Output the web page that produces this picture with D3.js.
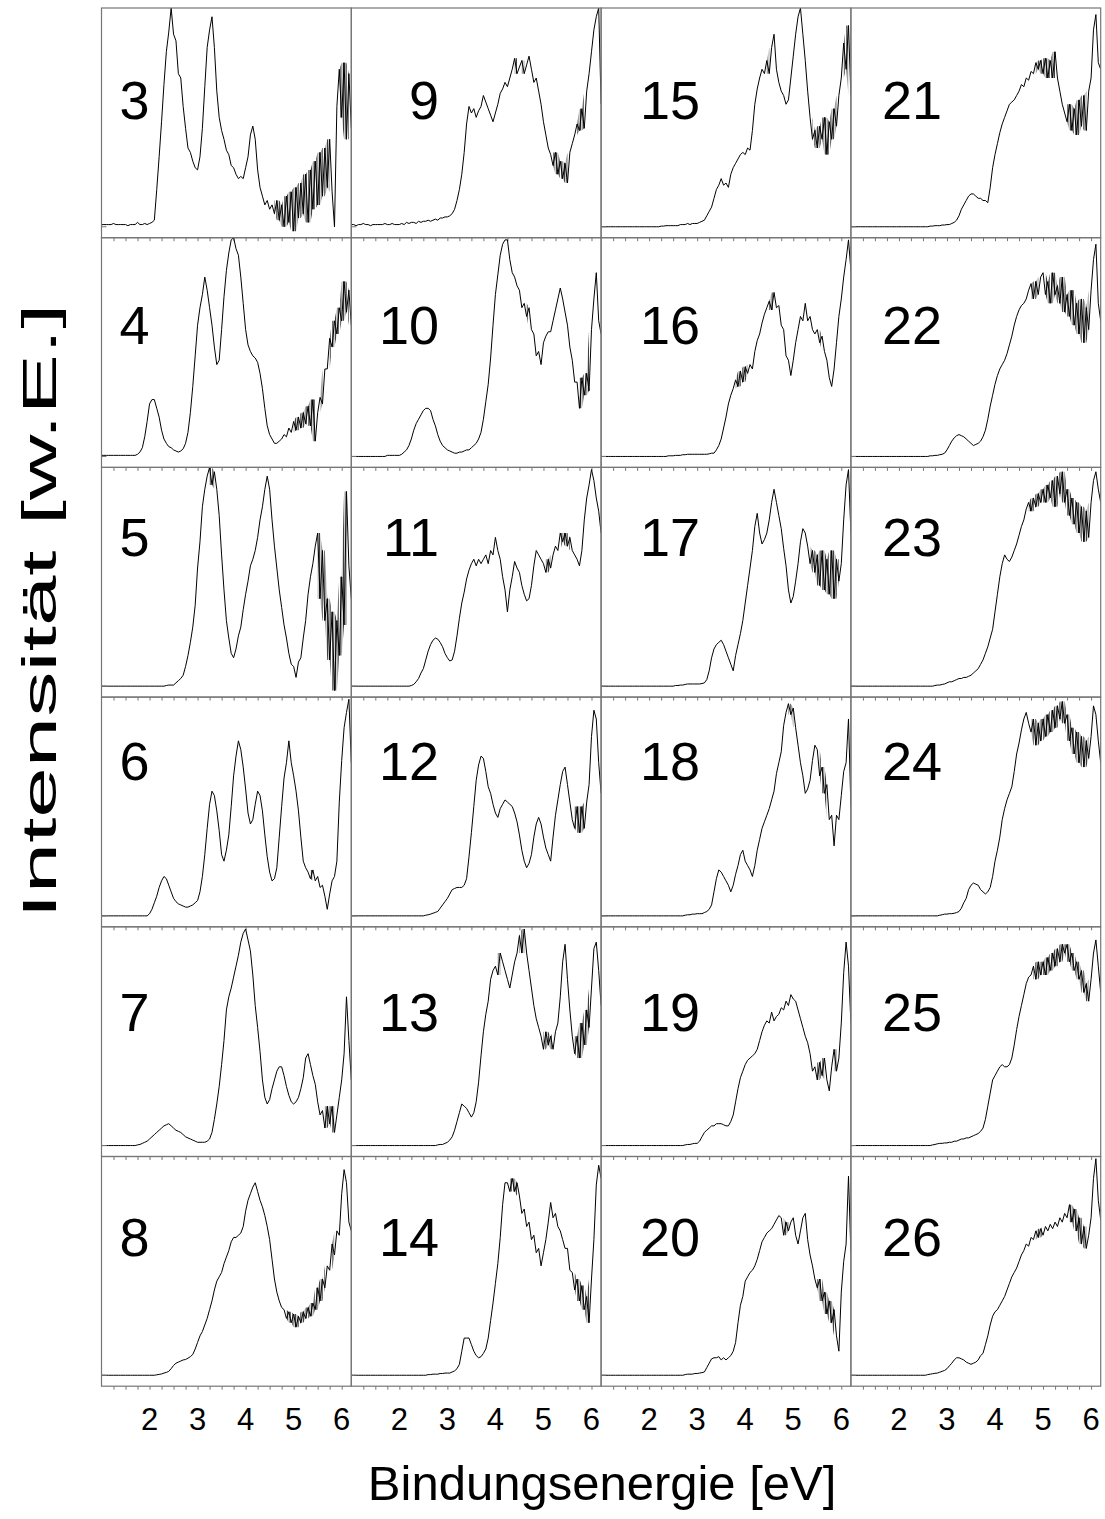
<!DOCTYPE html>
<html>
<head>
<meta charset="utf-8">
<script src="https://cdn.jsdelivr.net/npm/d3@7"></script>
<style>
  body { margin: 0; background: #fff; }
  text { font-family: "Liberation Sans", Arial, sans-serif; fill: #000; }
</style>
</head>
<body>
<svg id="chart" width="1105" height="1519"></svg>
<script>
// Photoelectron spectra: intensity in percent of the panel height,
// sampled every 0.05 eV from 1.00 eV to 6.20 eV (105 points per spectrum).
const E_START = 1.0;
const E_STEP = 0.05;

const spectrum3 = [
  1,1,1,1,1,1.5,1,1,1,1,
  1,0.5,1,1,1,2,1,1,1.5,1,
  1.5,2,3,17,32,48,65,80,89,100,
  88,85,70,68,55,45,36,34,30,27,
  26,32,45,64,82,90,96,82,62,50,
  44,40,35,33,28,27,24,22,23,22,
  27,32,42,46,40,26,18,14,10,12,
  8,10,6,12,3,10,0,14,2,16,
  -2,18,4,20,6,24,2,26,8,30,
  10,34,14,36,18,40,16,0,55,72,
  50,75,40,70,45];
const spectrum4 = [
  0.5,0.5,0.5,0.5,0.5,0.5,0.5,0.5,0.5,0.5,
  0.5,0.5,0.5,0.5,0.5,1,2,4,9,16,
  24,26,26,22,18,12,8,6,4.5,4,
  3,2.5,2,2.5,3.5,6,11,20,32,46,
  60,68,74,82,76,68,60,50,42,44,
  58,73,85,93,99,100,95,92,82,70,
  58,51,48,46,45,43,38,31,22,14,
  10,8,6,6,7,8,10,9,13,11,
  16,12,18,13,20,15,23,14,26,7,
  20,27,24,40,40,54,50,62,56,68,
  62,80,66,76,60];
const spectrum5 = [
  0,0,0,0,0,0,0,0,0,0,
  0,0,0,0,0,0,0,0,0,0,
  0,0,0,0,0,0,0,0.3,0.5,0.5,
  0.5,1.5,2.5,3.5,5,9,14,20,27,37,
  54,66,82,90,96,100,92,98,90,78,
  60,44,30,22,15,13,17,23,27,35,
  42,48,55,58,62,68,76,82,90,96,
  90,76,64,54,44,36,28,22,15,10,
  9,4,11,13,22,30,42,50,56,64,
  70,40,62,30,40,12,34,-2,30,14,
  50,28,89,55,40];
const spectrum6 = [
  0,0,0,0,0,0,0,0,0,0,
  0,0,0,0,0,0,0,0,0,0,
  1,3,6,9,13,16,18,17,14,11,
  8,6.5,5.5,5,4.5,4,4,4.5,5,6,
  7,11,18,28,40,51,57,55,48,39,
  28,25,30,37,50,64,73,80,76,68,
  58,47,42,44,51,57,55,48,37,27,
  20,16,17,22,36,50,63,70,80,70,
  64,57,48,36,25,22,20,17,21,16,
  18,13,14,9,3,10,16,18,25,52,
  71,86,93,99,70];
const spectrum7 = [
  0,0,0,0,0,0,0,0,0,0,
  0,0,0,0,0,0.3,0.5,1,1.5,2,
  3,4,5,6,7,8,9,9.5,10,9,
  8,7,6.5,6,5,4,3.5,3,2.5,2,
  1.5,1.5,1.5,1.5,2,3,6,12,19,27,
  37,48,62,68,72,77,82,87,93,97,
  99,94,89,78,64,54,43,30,22,19,
  21,26,30,34,36,36,32,27,23,20,
  19,20,22,26,31,40,42,37,32,28,
  20,14,16,8,18,10,18,6,14,22,
  30,42,68,48,30];
const spectrum8 = [
  0,0,0,0,0,0,0,0,0,0,
  0,0,0,0,0,0,0,0,0,0,
  0,0,0,0.2,0.4,0.6,1,1.3,1.8,3,
  4.5,5.5,6,6.5,7,7.2,7.8,8.5,9.5,12,
  15,18,20,23,26,30,34,39,43,45,
  47,51,54,57,61,63,63,64,65,68,
  75,80,83,86,88,84,80,77,73,68,
  62,53,44,38,34,31,30,26,29,24,
  28,22,27,24,29,26,31,27,33,30,
  40,34,44,40,50,48,60,55,66,64,
  83,94,88,70,66];
const spectrum9 = [
  1,1,0.5,1,1,1.5,1,1,0.5,1,
  1,1,1,1,1.5,1,1,1.5,1,1,
  1,1.5,1,2,1.5,2,2,1.5,2.5,2,
  2.5,2.5,3,2.5,3,3.5,3,4,4,4.5,
  4.5,5,6,8,12,17,24,34,47,55,
  52,54,50,53,55,60,57,54,51,48,
  52,56,61,63,66,64,68,72,77,70,
  73,76,70,74,78,72,66,68,62,56,
  48,42,36,33,28,34,24,30,22,29,
  20,34,38,42,47,44,54,45,62,70,
  80,90,96,100,56];
const spectrum10 = [
  0,0,0,0,0,0,0,0,0,0,
  0,0,0,0,0,0.5,0.5,0.5,0.5,0.5,
  0.5,1,2,3,5,8,12,15,17,19,
  21,22,22,21,17,14,10,7,5,4,
  3,2.5,2,1.5,1.5,2,2,2.5,3,3,
  4,5,6,8,11,17,25,33,45,60,
  74,83,92,97,99,99,90,84,82,78,
  76,68,70,64,68,58,56,46,48,42,
  52,55,57,57,62,67,72,77,72,66,
  60,50,44,34,34,22,36,28,38,30,
  58,72,84,62,56];
const spectrum11 = [
  0,0,0,0,0,0,0,0,0,0,
  0,0,0,0,0,0,0,0,0,0,
  0,0,0,0,0,0.3,0.8,2,3.5,6,
  8,12,16,19,21,22,21.5,20,18,15,
  13,11.5,12,16,23,31,38,43,49,53,
  56,58,55,58,56,58,60,56,62,60,
  68,62,58,50,44,34,44,50,57,54,
  52,46,42,39,40,46,55,62,60,58,
  56,52,58,54,60,64,62,70,66,70,
  64,68,62,60,58,55,62,76,86,92,
  99,94,86,80,70];
const spectrum12 = [
  0,0,0,0,0,0,0,0,0,0,
  0,0,0,0,0,0,0,0,0,0,
  0,0,0,0,0,0,0,0,0,0,
  0,0.3,0.5,0.8,1.2,1.6,2,3.5,5,6.5,
  8,10,12,12.5,13,13,13,14,17,27,
  38,50,62,69,73,72,66,59,56,51,
  47,45,49,51,53,52,51,50,47,43,
  37,30,25,22,24,28,36,42,45,42,
  36,31,28,25,36,46,53,60,66,68,
  60,52,44,40,50,38,50,40,52,60,
  82,94,90,70,56];
const spectrum13 = [
  0,0,0,0,0,0,0,0,0,0,
  0,0,0,0,0,0,0,0,0,0,
  0,0,0,0,0,0,0,0,0,0,
  0,0,0,0,0,0,0.3,0.5,0.5,1,
  1.5,2.5,4,7,11,15,19,18,17,15,
  13,15,20,29,41,52,60,66,76,80,
  82,78,88,84,80,76,72,78,84,88,
  96,88,99,88,80,72,64,58,54,50,
  44,52,46,50,44,52,56,68,84,92,
  76,62,50,42,50,40,56,46,62,54,
  72,90,93,80,64];
const spectrum14 = [
  0,0,0,0,0,0,0,0,0,0,
  0,0,0,0,0,0,0,0,0,0,
  0,0,0,0,0,0,0,0,0,0,
  0,0,0.3,0.3,0.5,0.5,0.5,0.8,0.8,1,
  1,1,1.5,2,3,5,11,17,17,17,
  14,11,9,8,8.5,10,12,17,25,33,
  42,51,63,78,88,88,84,90,84,88,
  82,74,76,68,70,62,64,56,58,50,
  56,62,70,79,72,74,68,66,62,58,
  58,48,47,39,44,34,41,30,36,24,
  44,62,87,96,90];
const spectrum15 = [
  0,0,0,0,0,0,0,0,0,0,
  0,0,0,0,0,0,0,0,0,0,
  0,0,0,0,0,0.3,0.3,0.5,0.5,0.5,
  0.5,0.5,0.5,1,1,1,1.5,1,1.5,1.5,
  1.5,2,2.5,3,5,7,9,13,17,19,
  22,19,20,18,24,27,29,31,33,34,
  33,36,35,44,56,63,68,72,70,76,
  70,82,88,72,66,62,60,56,58,68,
  78,88,96,100,88,76,62,50,40,44,
  36,46,40,50,33,48,40,54,46,60,
  68,84,72,92,60];
const spectrum16 = [
  0,0,0,0,0,0,0,0,0,0,
  0,0,0,0,0,0,0,0,0,0,
  0,0,0,0,0,0,0,0,0.3,0.3,
  0.3,0.5,0.5,0.5,0.8,0.8,1,1,1,1,
  1,1,1,1,1,1.2,1.5,1.5,3,5,
  8,13,18,24,28,31,35,32,39,34,
  41,38,42,40,48,53,56,61,65,68,
  71,67,75,68,69,60,58,46,44,37,
  44,52,58,64,62,70,62,64,58,56,
  58,52,55,48,44,36,32,40,52,64,
  72,82,90,99,85];
const spectrum17 = [
  0,0,0,0,0,0,0,0,0,0,
  0,0,0,0,0,0,0,0,0,0,
  0,0,0,0,0,0,0,0,0,0,
  0,0.3,0.3,0.5,0.5,0.8,1,1,1,1,
  1,1,1.2,1.5,3,7,13,17,19,20,
  21,19,16,13,10,7,14,19,24,30,
  38,46,54,62,73,79,70,65,67,70,
  76,84,90,84,78,72,63,55,44,38,
  41,48,56,66,72,70,64,56,62,52,
  60,46,62,44,58,42,62,40,58,48,
  56,76,92,99,70];
const spectrum18 = [
  0,0,0,0,0,0,0,0,0,0,
  0,0,0,0,0,0,0,0,0,0,
  0,0,0,0,0,0,0,0,0,0,
  0,0,0,0,0,0.3,0.5,0.5,0.8,0.8,
  1,1,1,1.5,2,3,5,11,17,21,
  20,18,16,14,11,14,19,23,28,30,
  25,23,21,18,23,30,35,40,43,46,
  49,53,57,65,70,75,87,93,97,92,
  95,86,78,70,64,56,58,62,71,78,
  76,64,68,56,60,44,46,32,46,44,
  55,66,70,90,50];
const spectrum19 = [
  0,0,0,0,0,0,0,0,0,0,
  0,0,0,0,0,0,0,0,0,0,
  0,0,0,0,0,0,0,0,0,0,
  0,0,0,0,0,0.3,0.5,0.5,0.8,1,
  1,2,4,6,7,8,9,9,10,10,
  10,9.5,9,9,11,14,20,26,31,34,
  37,39,40,41,42,44,48,52,55,57,
  56,61,57,59,60,63,62,66,64,69,
  67,66,62,58,54,50,47,42,34,36,
  30,38,32,40,30,25,36,44,34,40,
  56,79,93,82,56];
const spectrum20 = [
  0,0,0,0,0,0,0,0,0,0,
  0,0,0,0,0,0,0,0,0,0,
  0,0,0,0,0,0,0,0,0,0,
  0,0,0,0,0,0.3,0.5,0.5,0.5,0.8,
  0.8,1,1.2,1.5,3.5,5.5,7.5,8,8,8.5,
  7,8,7,8,9,11,15,24,32,36,
  43,45,47,48,50,53,57,61,63,65,
  66,67,69,71,73,72,64,70,66,70,
  72,64,60,66,72,74,62,55,50,44,
  40,44,34,38,28,34,24,30,18,11,
  38,52,60,91,56];
const spectrum21 = [
  0,0,0,0,0,0,0,0,0,0,
  0,0,0,0,0,0,0,0,0,0,
  0,0,0,0,0,0,0,0,0,0,
  0,0,0,0.3,0.3,0.5,0.5,0.5,0.8,0.8,
  1,1,1.5,2,3,5,8,10,12,14,
  15,15,14,13,13,12,12,11,18,27,
  33,38,43,47,50,53,56,57,58,60,
  62,65,64,68,67,71,70,75,72,76,
  70,77,68,76,68,80,68,62,56,52,
  48,56,44,54,42,58,46,60,44,62,
  68,90,97,75,72];
const spectrum22 = [
  0,0,0,0,0,0,0,0,0,0,
  0,0,0,0,0,0,0,0,0,0,
  0,0,0,0,0,0,0,0,0,0,
  0,0,0,0.3,0.3,0.5,0.5,0.8,1,1.5,
  3,5,7,8.5,9.5,10,9.5,9,8,7,
  6,5,5.5,6,7,9,12,17,23,28,
  33,37,40,42,44,47,51,55,60,64,
  67,69,70,72,76,79,72,80,74,82,
  84,74,80,70,84,74,78,70,82,66,
  74,64,76,60,70,56,72,52,68,58,
  76,90,97,70,62];
const spectrum23 = [
  0,0,0,0,0,0,0,0,0,0,
  0,0,0,0,0,0,0,0,0,0,
  0,0,0,0,0,0,0,0,0,0,
  0,0,0,0,0,0.3,0.5,0.5,0.8,1,
  1.5,2,2,2.5,3,3.5,3.5,4,4,4.5,
  5,6,7,8,10,12,15,18,22,26,
  34,42,50,56,60,58,57,59,62,65,
  69,73,76,81,84,80,86,82,88,84,
  90,84,92,86,94,82,96,88,98,84,
  90,78,86,74,84,70,82,66,80,68,
  84,94,98,90,84];
const spectrum24 = [
  0,0,0,0,0,0,0,0,0,0,
  0,0,0,0,0,0,0,0,0,0,
  0,0,0,0,0,0,0,0,0,0,
  0,0,0,0,0,0,0,0.3,0.5,0.8,
  0.8,1,1,1.2,1.5,2,3.5,6,8,12,
  14,15,14.5,14,12,11,10,11,13,18,
  25,30,36,44,49,53,56,59,66,74,
  79,85,90,93,88,84,90,78,88,80,
  90,82,92,84,94,86,96,90,98,88,
  92,80,86,74,84,70,82,68,80,72,
  82,96,92,80,70];
const spectrum25 = [
  0,0,0,0,0,0,0,0,0,0,
  0,0,0,0,0,0,0,0,0,0,
  0,0,0,0,0,0,0,0,0,0,
  0,0,0,0,0.3,0.5,0.8,1,1,1.2,
  1.2,1.5,1.5,2,2,2.5,3,3,3.5,3.5,
  4,4.5,5,5.5,6.5,8,12,18,24,30,
  32,34,36,37,36,36,37,40,46,53,
  59,64,69,74,77,78,82,76,84,78,
  84,78,86,80,88,82,90,84,92,88,
  92,84,88,80,84,76,80,70,74,66,
  76,88,94,82,70];
const spectrum26 = [
  0,0,0,0,0,0,0,0,0,0,
  0,0,0,0,0,0,0,0,0,0,
  0,0,0,0,0,0,0,0,0,0,
  0,0,0.3,0.5,0.7,0.9,1,1.4,1.8,2.2,
  3,4.3,5.5,7,8,8,7.5,7,6,5.5,
  5,5.5,6,7,9,10,14,18,23,27,
  29,30,32,34,36,39,42,45,47,49,
  52,55,57,60,59,63,62,66,63,67,
  64,68,66,69,67,70,68,72,70,74,
  72,78,70,76,66,72,60,68,58,64,
  72,90,99,80,71];

// Panel arrangement: sample numbers by row (top to bottom) and column (left to right)
const panelRows = [
  [3, 9, 15, 21],
  [4, 10, 16, 22],
  [5, 11, 17, 23],
  [6, 12, 18, 24],
  [7, 13, 19, 25],
  [8, 14, 20, 26]
];
const spectra = {
  3: spectrum3, 4: spectrum4, 5: spectrum5, 6: spectrum6, 7: spectrum7, 8: spectrum8,
  9: spectrum9, 10: spectrum10, 11: spectrum11, 12: spectrum12, 13: spectrum13, 14: spectrum14,
  15: spectrum15, 16: spectrum16, 17: spectrum17, 18: spectrum18, 19: spectrum19, 20: spectrum20,
  21: spectrum21, 22: spectrum22, 23: spectrum23, 24: spectrum24, 25: spectrum25, 26: spectrum26
};
const xTickValues = [2, 3, 4, 5, 6];
const xTickLabels = ["2", "3", "4", "5", "6"];
const xTitle = "Bindungsenergie [eV]";
const yTitle = "Intensität [w.E.]";

// ---- layout ----
const gridLeft = 101.5, gridTop = 8, colW = 249.8, rowH = 229.7;
const nRows = panelRows.length, nCols = panelRows[0].length;
const labelRight = [149.5, 439, 700, 942];           // right edge of the sample number per column
const labelBase = [119, 344, 556, 780, 1031, 1256];   // baseline of the sample number per row
const frameColor = "#767676";

const svg = d3.select("#chart");

const x = d3.scaleLinear().domain([1.0, 6.2]).range([0, colW]);
const y = d3.scaleLinear().domain([-5, 100]).range([rowH, 0]);
const line = d3.line()
  .x(d => x(d[0]))
  .y(d => y(d[1]));

// Where consecutive samples alternate up and down the signal is noisy; the
// min/max envelope of those samples is shaded with fine vertical hatching,
// the usual way a densely recorded noisy trace renders.
function noiseEnvelope(pts) {
  const n = pts.length;
  const zig = pts.map((p, i) => {
    if (i === 0 || i === n - 1) return false;
    const a = p[1] - pts[i - 1][1], b = pts[i + 1][1] - p[1];
    return a * b < 0 && Math.min(Math.abs(a), Math.abs(b)) > 2.5;
  });
  return pts.map((p, i) => {
    const w = pts.slice(Math.max(0, i - 1), i + 2).map(q => q[1]);
    return {
      e: p[0],
      lo: d3.min(w),
      hi: d3.max(w),
      on: zig[i] && ((i > 0 && zig[i - 1]) || (i < n - 1 && zig[i + 1]))
    };
  });
}
const band = d3.area()
  .defined(d => d.on)
  .x(d => x(d.e))
  .y0(d => y(d.lo))
  .y1(d => y(d.hi));

const minorTicks = d3.range(1.25, 6.001, 0.25);

const defs = svg.append("defs");
defs.append("clipPath").attr("id", "panel-clip")
  .append("rect").attr("x", 0).attr("y", 0).attr("width", colW).attr("height", rowH);
const hatch = defs.append("pattern").attr("id", "noise-hatch")
  .attr("patternUnits", "userSpaceOnUse")
  .attr("width", 1.6).attr("height", 8);
hatch.append("rect").attr("x", 0).attr("y", 0)
  .attr("width", 0.8).attr("height", 8)
  .attr("fill", "#000").attr("fill-opacity", 0.75);

panelRows.forEach((row, r) => {
  row.forEach((id, c) => {
    const g = svg.append("g")
      .attr("transform", `translate(${gridLeft + c * colW},${gridTop + r * rowH})`);

    const pts = spectra[id].map((v, i) => [E_START + i * E_STEP, v]);
    const plot = g.append("g").attr("clip-path", "url(#panel-clip)");

    plot.append("path")
      .attr("d", band(noiseEnvelope(pts)))
      .attr("fill", "url(#noise-hatch)")
      .attr("stroke", "none");

    plot.append("path")
      .attr("d", line(pts))
      .attr("fill", "none")
      .attr("stroke", "#000")
      .attr("stroke-width", 1)
      .attr("stroke-linejoin", "round");

    // bottom axis ticks, pointing outward
    const ax = g.append("g")
      .attr("transform", `translate(0,${rowH})`)
      .call(d3.axisBottom(x).tickValues(minorTicks).tickSize(3.5).tickFormat(""));
    ax.select(".domain").remove();
    ax.selectAll(".tick line").attr("stroke", frameColor).attr("stroke-width", 1);

    // small tick at the zero level on the left axis
    g.append("line")
      .attr("x1", 0).attr("x2", 5)
      .attr("y1", y(0)).attr("y2", y(0))
      .attr("stroke", frameColor).attr("stroke-width", 1);

    g.append("rect")
      .attr("x", 0).attr("y", 0)
      .attr("width", colW).attr("height", rowH)
      .attr("fill", "none")
      .attr("stroke", frameColor)
      .attr("stroke-width", 1.2);

    svg.append("text")
      .attr("x", labelRight[c])
      .attr("y", labelBase[r])
      .attr("text-anchor", "end")
      .attr("font-size", 54)
      .text(id);
  });
});

// energy tick labels below the last row
const bottomY = gridTop + nRows * rowH;
for (let c = 0; c < nCols; c++) {
  const g = svg.append("g").attr("transform", `translate(${gridLeft + c * colW},0)`);
  g.selectAll("text")
    .data(xTickValues)
    .join("text")
    .attr("x", d => x(d))
    .attr("y", bottomY + 44)
    .attr("text-anchor", "middle")
    .attr("font-size", 31)
    .text((d, i) => xTickLabels[i]);
}

// axis titles
svg.append("text")
  .attr("x", gridLeft + nCols * colW / 2 + 1)
  .attr("y", 1500)
  .attr("text-anchor", "middle")
  .attr("font-size", 49)
  .text(xTitle);

svg.append("text")
  .attr("transform", `translate(56,611) rotate(-90)`)
  .attr("text-anchor", "middle")
  .attr("font-size", 49)
  .attr("textLength", 615)
  .attr("lengthAdjust", "spacingAndGlyphs")
  .text(yTitle);
</script>
</body>
</html>
